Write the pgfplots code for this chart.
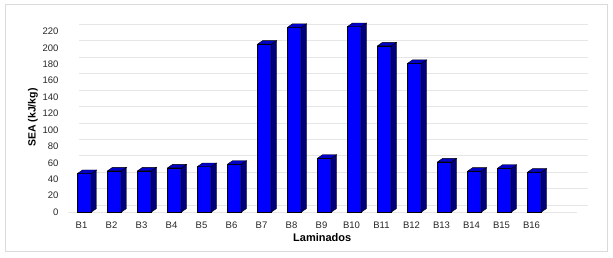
\documentclass[border=0pt]{standalone}
\usepackage{pgfplots}
\usepackage{pgfplotstable}
\pgfplotsset{compat=1.18}
\usepackage{fontspec}
\setmainfont{Liberation Sans}
\definecolor{front}{HTML}{0000FF}
\definecolor{topf}{HTML}{0000C8}
\definecolor{side}{HTML}{00007A}
\definecolor{gridc}{HTML}{E6E6E6}
\definecolor{framec}{HTML}{DADADA}
\pgfplotstableread{
x v
1 46.9
2 50.1
3 50.1
4 53.7
5 55.4
6 58.2
7 204.4
8 225.0
9 65.5
10 225.9
11 202.4
12 181.0
13 61.0
14 49.7
15 53.3
16 48.5
}\data
\begin{document}
\begin{tikzpicture}
\begin{axis}[
  x=30pt, y=0.821pt,
  xmin=0.45, xmax=17.4, ymin=0, ymax=230,
  axis lines=left,
  x axis line style={draw=gridc, line width=0.8pt, -},
  y axis line style={draw=none},
  major tick length=0pt,
  xtick={1,...,16},
  xticklabels={B1,B2,B3,B4,B5,B6,B7,B8,B9,B10,B11,B12,B13,B14,B15,B16},
  ytick={0,20,...,220},
  ymajorgrids,
  major grid style={draw=gridc, line width=0.7pt, xshift=11pt, yshift=7pt},
  tick label style={font=\fontsize{9.5}{11}\selectfont, text=black!85},
  /pgf/number format/assume math mode=true,
  yticklabel style={xshift=-6pt},
  xticklabel style={anchor=center, yshift=-13pt, xshift=-3pt},
  xlabel={Laminados}, ylabel={SEA (kJ/kg)},
  xlabel style={at={(axis description cs:0.5,0)}, anchor=center, yshift=-26pt, font=\bfseries\fontsize{11}{13}\selectfont},
  ylabel style={at={(axis description cs:-0.069,0.5)}, anchor=center, font=\bfseries\fontsize{10.5}{12}\selectfont},
  clip=false,
]
\addplot[ybar, bar width=14pt, bar shift=0pt, fill=front, draw=black, line width=0.4pt] table[x=x,y=v]{\data};
\addplot[only marks, scatter, mark=*, mark size=0pt, mark options={draw=none,fill=none},
  visualization depends on={\thisrow{v} \as \rawv},
  scatter/@pre marker code/.code={%
    \pgfmathsetmacro\hh{\rawv*0.821}%
    \pgfmathsetmacro\hb{3.5-\hh}%
    \filldraw[fill=topf, draw=black, line width=0.4pt] (-7pt,0pt) -- (7pt,0pt) -- (12pt,3.5pt) -- (-2pt,3.5pt) -- cycle;
    \filldraw[fill=side, draw=black, line width=0.4pt] (7pt,0pt) -- (12pt,3.5pt) -- (12pt,\hb pt) -- (7pt,-\hh pt) -- cycle;
  },
  scatter/@post marker code/.code={}
] table[x=x,y=v]{\data};
\coordinate (O) at (axis cs:0.45,0);
\end{axis}
\draw[framec, line width=0.8pt] (O) ++(-63pt,-39pt) rectangle ++(602pt,247pt);
\path[use as bounding box] (O) ++(-68pt,-45pt) rectangle ++(613pt,257pt);
\end{tikzpicture}
\end{document}
